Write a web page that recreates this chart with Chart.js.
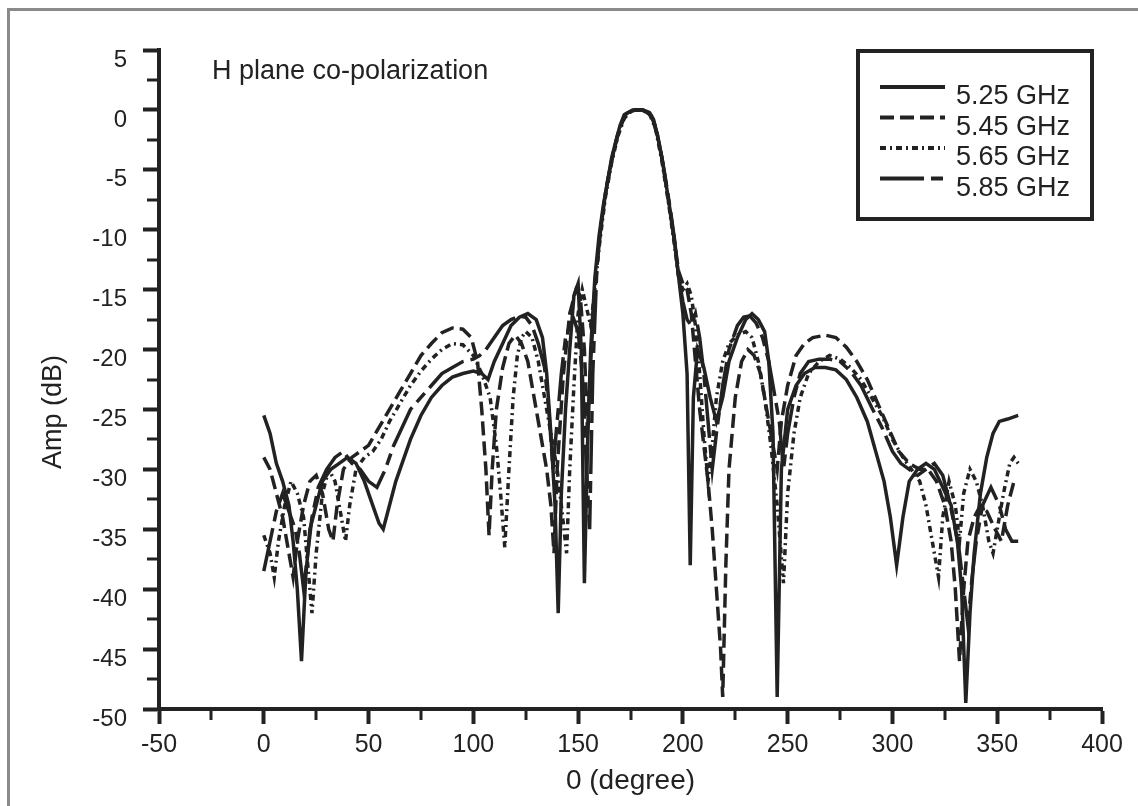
<!DOCTYPE html>
<html>
<head>
<meta charset="utf-8">
<script src="https://cdn.jsdelivr.net/npm/chart.js@4.4.0/dist/chart.umd.min.js"></script>
<style>
  html, body { margin: 0; padding: 0; background: #fff; }
  #wrap { width: 1138px; height: 806px; position: relative; }
</style>
</head>
<body>
<div id="wrap"><canvas id="chart" width="1138" height="806"></canvas></div>
<script>
// H plane co-polarization pattern, 4 frequencies (angle in degrees, amplitude in dB)
const SERIES_LABELS = ["5.25 GHz", "5.45 GHz", "5.65 GHz", "5.85 GHz"];

const ANGLE_525 = [0,3,6,9,12,14,16,18,20,22, 25,28,32,36,40,44,48,52,55,57,
  60,63,66,70,75,80,85,90,95,100, 104,107,110,114,118,122,126,130,133,135,
  137,139,140.5,142,144,146,148,150,151.5,153, 154.5,156,158,160,162,164,166,168,170,172,
  175,178,181,184,186,188,190,192,194,196, 198,200,202,203.5,205,207,210,213,216,219,
  222,226,230,233,236,239,241,243,245,247, 250,254,258,263,268,273,278,283,288,292,
  296,299,302,305,308,312,316,320,324,328, 331,333,335,337,339,342,345,348,351,355, 360];
const AMP_525 = [-25.5,-27,-29.5,-31,-33,-36,-40,-46,-39,-35, -33,-31,-30,-29.5,-29,-29.5,-31,-33,-34.5,-35,
  -33,-31,-29.5,-27.5,-25.5,-24,-23,-22.3,-22,-21.8, -22,-22.5,-21,-19.5,-18,-17.3,-17,-17.5,-19,-22,
  -27,-33,-42,-32,-25,-20,-15.5,-14.5,-20,-39.5, -28,-20,-14,-10.5,-8,-6,-4,-2.6,-1.3,-0.4,
  -0.1,0,0,-0.2,-0.8,-2.2,-4,-6.2,-8.5,-11, -14,-17,-22,-38,-24,-20,-21.5,-24,-26,-24,
  -21,-19,-17.5,-17,-17.5,-18.5,-21,-27,-49,-30, -25,-23,-22,-21.5,-21.5,-21.7,-22.5,-24,-26,-28.5,
  -31,-34,-38,-34,-31,-30,-29.5,-30,-31.5,-33, -36,-40,-49.5,-42,-37,-32,-29,-27,-26,-25.8, -25.5];

const ANGLE_545 = [0,3,6,9,12,14,16,19,22,25, 28,31,33,35,38,42,46,50,55,60,
  65,70,75,80,85,90,95,99,102,104, 106,107.5,109,111,114,117,120,123,126,129,
  132,135,137,138.5,140,143,146,149,151,153, 154.5,156,158,160,163,166,169,172,176,180,
  184,187,190,193,196,198,200,202,204,206, 208,210,212,214,216,218,219,220.5,222,225,
  228,231,234,237,240,243,245,247,250,254, 258,262,268,273,278,283,288,293,298,303,
  308,313,317,321,325,328,330,332,334,336, 339,342,345,349,352,355,358,360];
const AMP_545 = [-29,-30,-32,-34,-37,-39,-36,-33,-31,-30.5, -32,-35,-36,-33,-30,-29,-28.5,-28,-26.5,-25,
  -23.5,-22,-20.5,-19.5,-18.6,-18.2,-18.3,-19,-21,-25, -30,-35.5,-30,-25,-21.5,-19.5,-18.8,-19.5,-21,-24,
  -27,-30,-33,-37,-30,-22,-17,-15,-15.5,-20, -27,-21,-15,-11,-7,-4.2,-2,-0.6,0,0,
  -0.2,-1.4,-4,-7.4,-11,-13.5,-14.5,-15,-17,-21, -25,-28,-31,-35,-40,-45,-49,-38,-30,-24,
  -21,-20,-20.5,-22,-25,-28,-30,-26,-23,-20.5, -19.5,-19,-18.8,-19,-19.8,-21,-22.5,-24.5,-26.5,-28.5,
  -29.5,-30,-30,-31,-33,-36,-40,-46,-40,-36, -34,-33,-33.5,-35,-36,-33,-31,-31];

const ANGLE_565 = [0,3,5,7,10,13,16,19,21,23, 25,28,31,34,37,39,41,44,48,52,
  56,60,65,70,75,80,85,90,95,100, 104,108,111,113,115,117,119,121,123,125,
  128,131,134,137,140,142,144.5,146,148,150, 152,154,156,158,160,163,166,169,172,176,
  180,184,187,190,193,196,198,200,202,204, 206,208,210,212,214,216,219,222,226,230,
  233,236,239,242,245,248,250,253,256,260, 265,270,275,280,285,290,295,300,305,309,
  313,316,319,322,324,327,330,332,334,337, 340,343,346,348,350,353,356,358,360];
const AMP_565 = [-35.5,-37,-39,-36,-33,-31,-32,-34,-38,-42, -37,-32,-30,-31,-34,-36,-33,-30,-29,-28.5,
  -27.5,-26,-24.5,-23,-21.8,-20.8,-20,-19.5,-19.6,-20.5, -22,-24,-28,-32,-36.5,-30,-24,-20.5,-19,-18.5,
  -19,-21,-24,-27,-30,-33,-37,-30,-23,-17, -15,-16.5,-18,-15,-11.5,-7.3,-4.4,-2.2,-0.7,0,
  0,-0.3,-1.6,-4.3,-7.6,-11.3,-14,-15,-14.5,-15.5, -18,-22,-27,-31,-28,-24,-21,-19.5,-18.8,-18.5,
  -19,-21,-24,-28,-33,-39.5,-32,-27,-24,-22, -21,-20.5,-20.8,-21.5,-22.5,-24,-25.5,-27.5,-29,-30,
  -31,-33,-36,-39,-34,-31,-33,-36,-32,-30, -31,-33,-36,-37,-35,-32,-29.5,-29,-29.5];

const ANGLE_585 = [0,3,6,9,12,15,17,19,21,23, 26,30,34,38,42,46,50,54,58,62,
  66,70,75,80,85,90,95,100,103,106, 110,114,118,122,125,128,131,134,136,138,
  140,142,144,146,148,150,152,154,155.5,157, 159,161,164,167,170,173,177,181,185,188,
  191,194,196,198,200,202,204,206,208,210, 212,214,216,219,222,226,229,232,235,238,
  241,243,246,248,250,253,256,260,265,270, 275,280,285,290,295,300,304,308,312,316,
  320,324,327,330,332,334,336,338,340,343, 347,351,354,357,360];
const AMP_585 = [-38.5,-36,-33.5,-32,-33.5,-35,-37,-40,-37,-34, -31.5,-30,-29,-28.5,-29.5,-30,-31,-31.5,-30,-28,
  -26.5,-25,-24,-23,-22,-21.5,-21,-20.8,-20.5,-20, -19,-18,-17.5,-17.2,-17.3,-18,-19.5,-21.5,-25,-30,
  -26,-22,-19,-18,-17.5,-18.5,-22,-30,-35,-22, -13,-9.5,-6,-3.4,-1.4,-0.3,0,0,-0.5,-2.2,
  -5,-8.3,-10.8,-14,-16,-17.5,-18,-17,-19,-22, -26,-30,-27,-23,-20,-18,-17.3,-17.2,-17.8,-19,
  -21,-23,-26,-30,-27,-24,-22,-21,-20.8,-20.8, -21,-21.8,-23,-24.8,-26.5,-28.5,-29.5,-30,-30.5,-30,
  -29.5,-30.5,-32.5,-35,-37,-40,-43,-39,-36,-33, -31.5,-33,-35,-36,-36];

const X_MIN = -50, X_MAX = 400, X_STEP = 50;
const Y_MIN = -50, Y_MAX = 5, Y_STEP = 5;
const PLOT_NOTE = "H plane co-polarization";
const X_TITLE = "0 (degree)";
const Y_TITLE = "Amp (dB)";

const INK = "#222";
const FONT = "'Liberation Sans', Arial, sans-serif";
const LINE_DASHES = [[], [14, 6], [6, 4, 2, 4], [44, 7, 12, 7]];

function toPoints(angles, amps) {
  return angles.map((a, i) => ({ x: a, y: amps[i] }));
}

const seriesData = [
  toPoints(ANGLE_525, AMP_525),
  toPoints(ANGLE_545, AMP_545),
  toPoints(ANGLE_565, AMP_565),
  toPoints(ANGLE_585, AMP_585),
];

// background frame, minor ticks, y title, note text and boxed legend
const decor = {
  id: "decor",
  beforeDraw(chart) {
    const ctx = chart.ctx;
    ctx.save();
    ctx.fillStyle = "#fff";
    ctx.fillRect(0, 0, chart.width, chart.height);
    ctx.strokeStyle = "#8a8a8a";
    ctx.lineWidth = 3;
    ctx.beginPath();
    ctx.moveTo(8.5, chart.height);
    ctx.lineTo(8.5, 9.5);
    ctx.lineTo(chart.width, 9.5);
    ctx.stroke();
    ctx.restore();
  },
  afterDraw(chart) {
    const ctx = chart.ctx;
    const xs = chart.scales.x, ys = chart.scales.y;
    const area = chart.chartArea;
    ctx.save();
    ctx.strokeStyle = INK;
    ctx.lineWidth = 3;
    ctx.beginPath();
    for (let v = X_MIN + X_STEP / 2; v < X_MAX; v += X_STEP) {
      const px = Math.round(xs.getPixelForValue(v));
      ctx.moveTo(px, area.bottom);
      ctx.lineTo(px, area.bottom + 11);
    }
    for (let v = Y_MIN + Y_STEP / 2; v < Y_MAX; v += Y_STEP) {
      const py = Math.round(ys.getPixelForValue(v));
      ctx.moveTo(area.left, py);
      ctx.lineTo(area.left - 12, py);
    }
    ctx.stroke();

    ctx.fillStyle = INK;
    ctx.textBaseline = "middle";

    // y axis title, sits a bit below the middle of the axis
    ctx.save();
    ctx.translate(54, 412);
    ctx.rotate(-Math.PI / 2);
    ctx.textAlign = "center";
    ctx.font = "27px " + FONT;
    ctx.fillText(Y_TITLE, 0, 0);
    ctx.restore();

    ctx.textAlign = "left";
    ctx.font = "27px " + FONT;
    ctx.fillText(PLOT_NOTE, 212, 72);

    // legend box
    ctx.lineWidth = 4;
    ctx.strokeRect(858, 51, 234, 168);
    chart.data.datasets.forEach((ds, i) => {
      const ty = 97 + i * 30.5;
      ctx.beginPath();
      ctx.setLineDash(ds.borderDash || []);
      ctx.lineWidth = 4;
      ctx.moveTo(880, ty - 10);
      ctx.lineTo(945, ty - 10);
      ctx.stroke();
      ctx.setLineDash([]);
      ctx.fillText(ds.label, 956, ty);
    });
    ctx.restore();
  },
};

const datasets = seriesData.map((pts, i) => ({
  label: SERIES_LABELS[i],
  data: pts,
  borderColor: INK,
  backgroundColor: INK,
  borderWidth: 3.5,
  borderDash: LINE_DASHES[i],
  pointRadius: 0,
  tension: 0,
  fill: false,
}));

new Chart(document.getElementById("chart"), {
  type: "line",
  data: { datasets },
  options: {
    responsive: false,
    animation: false,
    devicePixelRatio: 1,
    layout: { padding: { left: 0, top: 50, right: 36, bottom: 0 } },
    plugins: {
      legend: { display: false },
      tooltip: { enabled: false },
    },
    scales: {
      x: {
        type: "linear",
        min: X_MIN,
        max: X_MAX,
        afterFit: (s) => { s.height = 97; },
        border: { display: true, color: INK, width: 4 },
        grid: { display: true, drawOnChartArea: false, drawTicks: true, tickLength: 15, tickWidth: 4, tickColor: INK },
        ticks: { stepSize: X_STEP, color: INK, padding: 6, autoSkip: false, maxRotation: 0, font: { family: FONT, size: 25 } },
        title: { display: true, text: X_TITLE, color: INK, padding: { top: 0, bottom: 8 }, font: { family: FONT, size: 28 } },
      },
      y: {
        type: "linear",
        min: Y_MIN,
        max: Y_MAX,
        afterFit: (s) => { s.width = 159; },
        border: { display: true, color: INK, width: 4 },
        grid: { display: true, drawOnChartArea: false, drawTicks: true, tickLength: 16, tickWidth: 4, tickColor: INK },
        ticks: { stepSize: Y_STEP, color: INK, padding: 16, labelOffset: 10, font: { family: FONT, size: 24 } },
        title: { display: false },
      },
    },
  },
  plugins: [decor],
});
</script>
</body>
</html>
